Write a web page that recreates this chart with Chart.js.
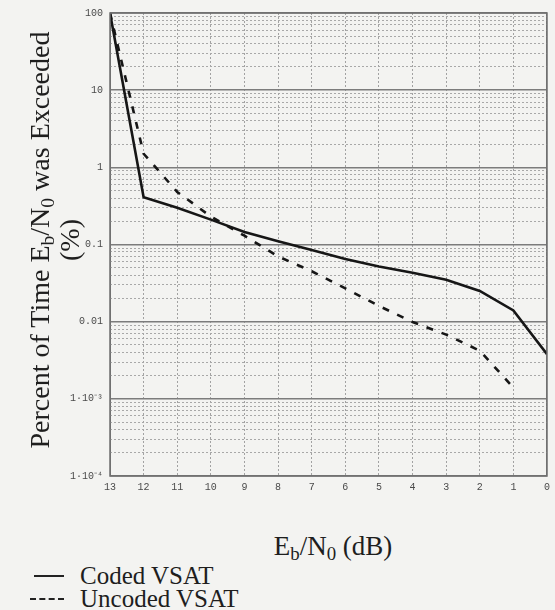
<!DOCTYPE html>
<html>
<head>
<meta charset="utf-8">
<script src="https://cdn.jsdelivr.net/npm/chart.js@4.4.1/dist/chart.umd.min.js"></script>
<style>
  body { margin: 0; width: 555px; height: 610px; overflow: hidden; position: relative;
         background: #f3f3f1; color: #1e1e1e; font-family: "Liberation Serif", "Times New Roman", serif; }
  #plot { position: absolute; left: 0; top: 0; width: 555px; height: 500px; }
  .ytitle { position: absolute; left: -185px; top: 210px; width: 480px; height: 60px;
            transform: rotate(-90deg); text-align: center; font-size: 28px; line-height: 30px; }
  .xtitle { position: absolute; left: 213px; top: 531px; width: 240px; text-align: center; font-size: 27px; }
  .legend { position: absolute; left: 30px; top: 564px; font-size: 25px; line-height: 23px; }
  .legend-row { display: flex; align-items: center; }
  .legend-line { width: 30px; margin-left: 4px; margin-right: 16px; border-top: 2px solid #222; }
  .legend-line.dash { width: 34px; margin-left: 0; border-top: 2px dashed #222; }
  sub { font-size: 0.7em; vertical-align: -0.25em; line-height: 0; }
</style>
</head>
<body>
<div id="plot"><canvas id="chart"></canvas></div>
<div class="ytitle">Percent of Time E<sub>b</sub>/N<sub>0</sub> was Exceeded<br>(%)</div>
<div class="xtitle">E<sub>b</sub>/N<sub>0</sub> (dB)</div>
<div class="legend">
  <div class="legend-row"><span class="legend-line"></span>Coded VSAT</div>
  <div class="legend-row"><span class="legend-line dash"></span>Uncoded VSAT</div>
</div>
<script>
// Eb/N0 (dB) values, read left to right (axis runs 13 -> 0)
var ebn0 = [13, 12, 11, 10, 9, 8, 7, 6, 5, 4, 3, 2, 1, 0];
// percent of time exceeded
var coded = [100, 0.41, 0.3, 0.21, 0.145, 0.11, 0.085, 0.065, 0.052, 0.043, 0.035, 0.025, 0.014, 0.0038];
var uncoded = [100, 1.5, 0.48, 0.23, 0.13, 0.07, 0.045, 0.027, 0.016, 0.0099, 0.0068, 0.0042, 0.0014, null];

var yDecades = [1e-4, 1e-3, 0.01, 0.1, 1, 10, 100];
var yDecadeLabels = ['1\u00b710\u207b\u2074', '1\u00b710\u207b\u00b3', '0.01', '0.1', '1', '10', '100'];
var xTicks = [13, 12, 11, 10, 9, 8, 7, 6, 5, 4, 3, 2, 1, 0];

function toPoints(ys) {
  return ebn0.map(function(x, i) { return { x: x, y: ys[i] }; });
}

function decadeIndex(v) {
  for (var i = 0; i < yDecades.length; i++) {
    if (Math.abs(v - yDecades[i]) / yDecades[i] < 1e-6) return i;
  }
  return -1;
}

// frame around the plot area
var framePlugin = {
  id: 'frame',
  afterDraw: function(chart) {
    var a = chart.chartArea, ctx = chart.ctx;
    ctx.save();
    ctx.strokeStyle = '#6e6e6e';
    ctx.lineWidth = 1.5;
    ctx.strokeRect(a.left, a.top, a.right - a.left, a.bottom - a.top);
    ctx.restore();
  }
};

new Chart(document.getElementById('chart'), {
  type: 'line',
  data: {
    datasets: [
      {
        label: 'Coded VSAT',
        data: toPoints(coded),
        borderColor: '#161616',
        borderWidth: 2.6,
        pointRadius: 0,
        tension: 0
      },
      {
        label: 'Uncoded VSAT',
        data: toPoints(uncoded),
        borderColor: '#161616',
        borderWidth: 2.6,
        borderDash: [7, 9],
        pointRadius: 0,
        tension: 0,
        spanGaps: false
      }
    ]
  },
  options: {
    responsive: true,
    maintainAspectRatio: false,
    animation: false,
    layout: { padding: { top: 13, right: 3, left: 0, bottom: 0 } },
    plugins: { legend: { display: false }, tooltip: { enabled: false } },
    scales: {
      x: {
        type: 'linear',
        reverse: true,
        min: 0,
        max: 13,
        afterBuildTicks: function(scale) {
          scale.ticks = xTicks.map(function(v) { return { value: v }; });
        },
        afterFit: function(scale) { scale.height = 24; },
        ticks: {
          autoSkip: false,
          maxRotation: 0,
          padding: 5,
          color: '#4a4a4a',
          font: { family: 'Liberation Mono', size: 10 }
        },
        grid: {
          drawTicks: false,
          color: function(ctx) { return (ctx.tick && (ctx.tick.value === 0 || ctx.tick.value === 13)) ? '#7a7a7a' : '#a2a2a2'; },
          lineWidth: 1
        },
        border: {
          display: false,
          dash: function(ctx) {
            if (!ctx.tick) return [];
            return (ctx.tick.value === 0 || ctx.tick.value === 13) ? [] : [2, 2];
          }
        }
      },
      y: {
        type: 'logarithmic',
        min: 1e-4,
        max: 100,
        afterBuildTicks: function(scale) {
          var t = [];
          for (var d = 0; d < yDecades.length - 1; d++) {
            for (var m = 1; m <= 9; m++) t.push({ value: yDecades[d] * m });
          }
          t.push({ value: 100 });
          scale.ticks = t;
        },
        afterFit: function(scale) { scale.width = 110; },
        ticks: {
          autoSkip: false,
          padding: 7,
          color: '#4a4a4a',
          font: { family: 'Liberation Mono', size: 10 },
          callback: function(v) {
            var i = decadeIndex(v);
            return i >= 0 ? yDecadeLabels[i] : '';
          }
        },
        grid: {
          drawTicks: false,
          color: function(ctx) { return ctx.tick && decadeIndex(ctx.tick.value) >= 0 ? '#7c7c7c' : '#a8a8a8'; },
          lineWidth: function(ctx) { return ctx.tick && decadeIndex(ctx.tick.value) >= 0 ? 1.6 : 1; }
        },
        border: {
          display: false,
          dash: function(ctx) {
            if (!ctx.tick) return [];
            return decadeIndex(ctx.tick.value) >= 0 ? [] : [2, 2];
          }
        }
      }
    }
  },
  plugins: [framePlugin]
});
</script>
</body>
</html>
